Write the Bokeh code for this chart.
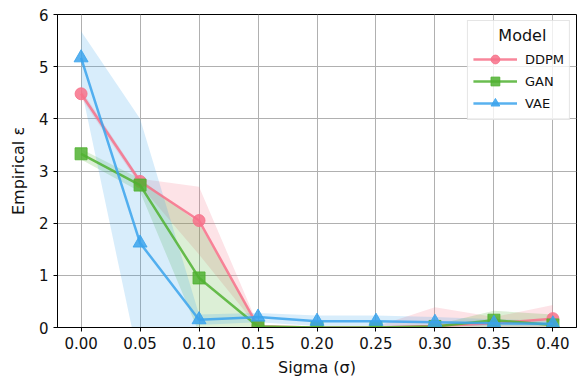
from bokeh.plotting import figure
from bokeh.models import FixedTicker, NumeralTickFormatter, Legend, LegendItem, Range1d
from bokeh.embed import file_html
from bokeh.resources import INLINE

# noise levels
sigma = [0.00, 0.05, 0.10, 0.15, 0.20, 0.25, 0.30, 0.35, 0.40]

# mean empirical epsilon per model, with lower/upper band
ddpm_mean = [4.48, 2.80, 2.05, 0.02, 0.00, 0.00, 0.03, 0.08, 0.17]
ddpm_lo = [4.40, 2.72, 1.40, 0.00, 0.00, 0.00, -0.10, 0.00, 0.00]
ddpm_hi = [4.56, 2.85, 2.70, 0.05, 0.00, 0.02, 0.39, 0.20, 0.43]

gan_mean = [3.33, 2.73, 0.95, 0.02, 0.00, 0.00, 0.02, 0.14, 0.05]
gan_lo = [3.22, 2.60, -0.10, 0.00, 0.00, 0.00, 0.00, 0.00, 0.00]
gan_hi = [3.42, 2.85, 2.00, 0.05, 0.00, 0.00, 0.05, 0.32, 0.25]

vae_mean = [5.17, 1.62, 0.15, 0.20, 0.12, 0.12, 0.10, 0.08, 0.07]
vae_lo = [4.60, -0.75, 0.05, 0.10, 0.03, 0.03, 0.03, 0.02, 0.02]
vae_hi = [5.68, 4.00, 0.25, 0.28, 0.23, 0.23, 0.20, 0.16, 0.13]

models = ["DDPM", "GAN", "VAE"]
colors = ["#f77189", "#50b131", "#3ba3ec"]
markers = ["circle", "square", "triangle"]
sizes = [12, 12, 14]

series = [
    (ddpm_mean, ddpm_lo, ddpm_hi),
    (gan_mean, gan_lo, gan_hi),
    (vae_mean, vae_lo, vae_hi),
]

p = figure(width=577, height=380, output_backend="svg", toolbar_location=None,
           x_range=Range1d(-0.02, 0.42), y_range=Range1d(0, 6),
           min_border_left=57, min_border_right=1, min_border_top=14, min_border_bottom=53)

font = "DejaVu Sans"
p.background_fill_color = "white"
p.border_fill_color = "white"
p.outline_line_color = "black"
p.outline_line_width = 1
p.outline_line_alpha = 1

p.xgrid.grid_line_color = "#b0b0b0"
p.ygrid.grid_line_color = "#b0b0b0"
p.xgrid.grid_line_width = 1
p.ygrid.grid_line_width = 1

p.xaxis.ticker = FixedTicker(ticks=sigma)
p.xaxis.formatter = NumeralTickFormatter(format="0.00")
p.yaxis.ticker = FixedTicker(ticks=[0, 1, 2, 3, 4, 5, 6])
p.yaxis.formatter = NumeralTickFormatter(format="0")

for ax in (p.xaxis[0], p.yaxis[0]):
    ax.major_label_text_font = font
    ax.major_label_text_font_size = "15px"
    ax.major_label_text_color = "#111111"
    ax.axis_label_text_font = font
    ax.axis_label_text_font_size = "16px"
    ax.axis_label_text_font_style = "normal"
    ax.axis_label_text_color = "#111111"
    ax.minor_tick_line_color = None
    ax.major_tick_in = 0
    ax.major_tick_out = 4
    ax.major_tick_line_color = "black"
    ax.axis_line_color = "black"

p.xaxis.axis_label = "Sigma (σ)"
p.yaxis.axis_label = "Empirical ε"
p.xaxis.axis_label_standoff = 6
p.yaxis.axis_label_standoff = 8

# shaded bands first so lines sit on top
for (m, lo, hi), c in zip(series, colors):
    p.varea(x=sigma, y1=lo, y2=hi, fill_color=c, fill_alpha=0.2)

items = []
for name, (m, lo, hi), c, mk, sz in zip(models, series, colors, markers, sizes):
    ln = p.line(sigma, m, line_color=c, line_width=2.5, line_alpha=0.85)
    sc = p.scatter(sigma, m, marker=mk, size=sz, fill_color=c, line_color=c,
                   fill_alpha=0.85, line_alpha=0.85)
    items.append(LegendItem(label=name, renderers=[ln, sc]))

legend = Legend(items=items, location="top_right")
# non-breaking spaces push the title towards the middle of the box
legend.title = "\u00a0" * 5 + "Model"
legend.title_text_font = font
legend.title_text_font_size = "16px"
legend.title_text_font_style = "normal"
legend.title_text_color = "#111111"
legend.label_text_font = font
legend.label_text_font_size = "13px"
legend.label_text_color = "#111111"
legend.glyph_width = 44
legend.glyph_height = 22
legend.label_height = 22
legend.spacing = 0
legend.padding = 5
legend.margin = 6
legend.title_standoff = 3
legend.label_standoff = 8
legend.border_line_color = "#cccccc"
legend.border_line_width = 1
legend.background_fill_alpha = 0.8
p.add_layout(legend)

open("out.html", "w").write(file_html(p, INLINE))
